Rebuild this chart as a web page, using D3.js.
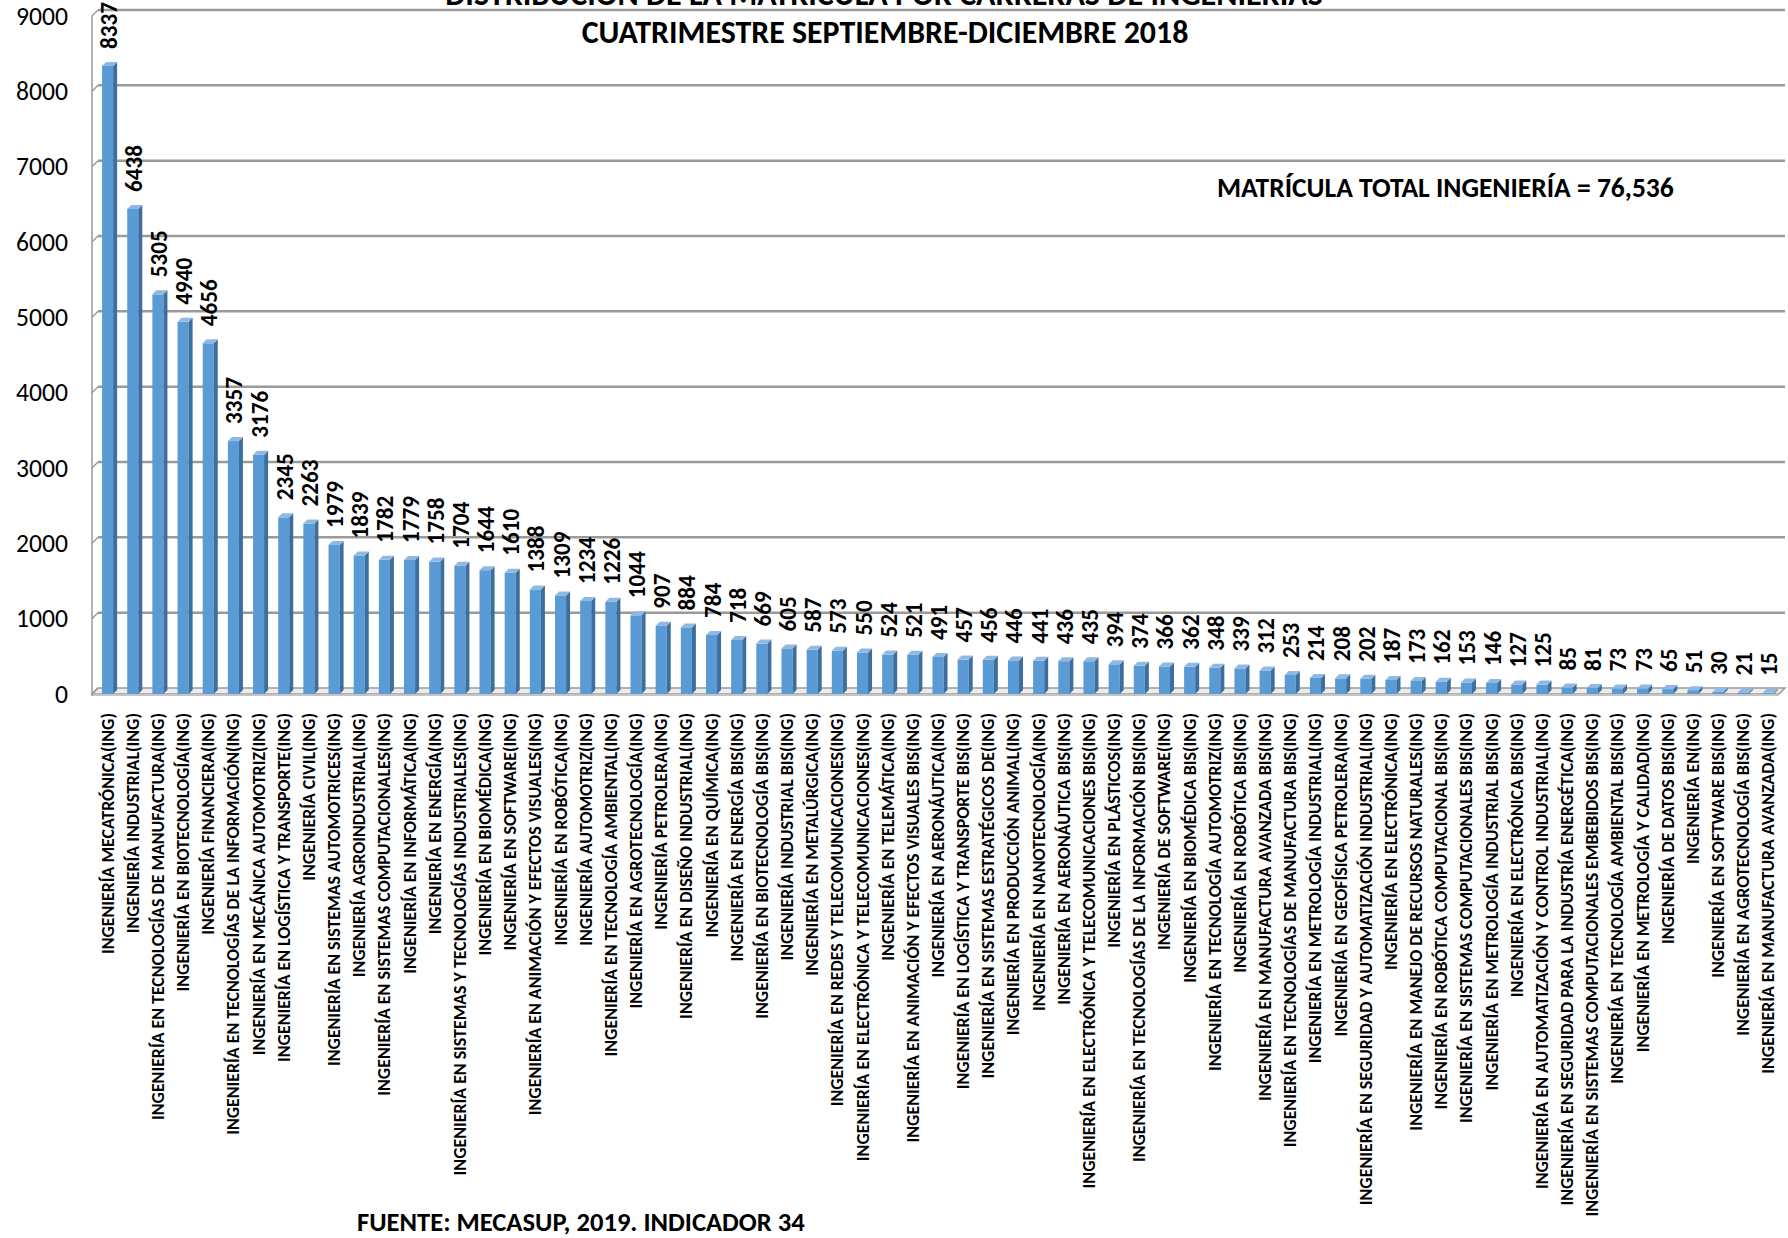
<!DOCTYPE html>
<html>
<head>
<meta charset="utf-8">
<script src="https://cdn.jsdelivr.net/npm/d3@7"></script>
<style>
    body { margin: 0; background: #ffffff; }
    svg { display: block; }
</style>
</head>
<body>
<svg id="svg-container" width="1788" height="1238"></svg>
<script>
// matrícula por carrera, en el mismo orden que la gráfica
const categories = [
    "INGENIERÍA MECATRÓNICA(ING)",
    "INGENIERÍA INDUSTRIAL(ING)",
    "INGENIERÍA EN TECNOLOGÍAS DE MANUFACTURA(ING)",
    "INGENIERÍA EN BIOTECNOLOGÍA(ING)",
    "INGENIERÍA FINANCIERA(ING)",
    "INGENIERÍA EN TECNOLOGÍAS DE LA INFORMACIÓN(ING)",
    "INGENIERÍA EN MECÁNICA AUTOMOTRIZ(ING)",
    "INGENIERÍA EN LOGÍSTICA Y TRANSPORTE(ING)",
    "INGENIERÍA CIVIL(ING)",
    "INGENIERÍA EN SISTEMAS AUTOMOTRICES(ING)",
    "INGENIERÍA AGROINDUSTRIAL(ING)",
    "INGENIERÍA EN SISTEMAS COMPUTACIONALES(ING)",
    "INGENIERÍA EN INFORMÁTICA(ING)",
    "INGENIERÍA EN ENERGÍA(ING)",
    "INGENIERÍA EN SISTEMAS Y TECNOLOGÍAS INDUSTRIALES(ING)",
    "INGENIERÍA EN BIOMÉDICA(ING)",
    "INGENIERÍA EN SOFTWARE(ING)",
    "INGENIERÍA EN ANIMACIÓN Y EFECTOS VISUALES(ING)",
    "INGENIERÍA EN ROBÓTICA(ING)",
    "INGENIERÍA AUTOMOTRIZ(ING)",
    "INGENIERÍA EN TECNOLOGÍA AMBIENTAL(ING)",
    "INGENIERÍA EN AGROTECNOLOGÍA(ING)",
    "INGENIERÍA PETROLERA(ING)",
    "INGENIERÍA EN DISEÑO INDUSTRIAL(ING)",
    "INGENIERÍA EN QUÍMICA(ING)",
    "INGENIERÍA EN ENERGÍA BIS(ING)",
    "INGENIERÍA EN BIOTECNOLOGÍA BIS(ING)",
    "INGENIERÍA INDUSTRIAL BIS(ING)",
    "INGENIERÍA EN METALÚRGICA(ING)",
    "INGENIERÍA EN REDES Y TELECOMUNICACIONES(ING)",
    "INGENIERÍA EN ELECTRÓNICA Y TELECOMUNICACIONES(ING)",
    "INGENIERÍA EN TELEMÁTICA(ING)",
    "INGENIERÍA EN ANIMACIÓN Y EFECTOS VISUALES BIS(ING)",
    "INGENIERÍA EN AERONÁUTICA(ING)",
    "INGENIERÍA EN LOGÍSTICA Y TRANSPORTE BIS(ING)",
    "INGENIERÍA EN SISTEMAS ESTRATÉGICOS DE(ING)",
    "INGENIERÍA EN PRODUCCIÓN ANIMAL(ING)",
    "INGENIERÍA EN NANOTECNOLOGÍA(ING)",
    "INGENIERÍA EN AERONÁUTICA BIS(ING)",
    "INGENIERÍA EN ELECTRÓNICA Y TELECOMUNICACIONES BIS(ING)",
    "INGENIERÍA EN PLÁSTICOS(ING)",
    "INGENIERÍA EN TECNOLOGÍAS DE LA INFORMACIÓN BIS(ING)",
    "INGENIERÍA DE SOFTWARE(ING)",
    "INGENIERÍA EN BIOMÉDICA BIS(ING)",
    "INGENIERÍA EN TECNOLOGÍA AUTOMOTRIZ(ING)",
    "INGENIERÍA EN ROBÓTICA BIS(ING)",
    "INGENIERÍA EN MANUFACTURA AVANZADA BIS(ING)",
    "INGENIERÍA EN TECNOLOGÍAS DE MANUFACTURA BIS(ING)",
    "INGENIERÍA EN METROLOGÍA INDUSTRIAL(ING)",
    "INGENIERÍA EN GEOFÍSICA PETROLERA(ING)",
    "INGENIERÍA EN SEGURIDAD Y AUTOMATIZACIÓN INDUSTRIAL(ING)",
    "INGENIERÍA EN ELECTRÓNICA(ING)",
    "INGENIERÍA EN MANEJO DE RECURSOS NATURALES(ING)",
    "INGENIERÍA EN ROBÓTICA COMPUTACIONAL BIS(ING)",
    "INGENIERÍA EN SISTEMAS COMPUTACIONALES BIS(ING)",
    "INGENIERÍA EN METROLOGÍA INDUSTRIAL BIS(ING)",
    "INGENIERÍA EN ELECTRÓNICA BIS(ING)",
    "INGENIERÍA EN AUTOMATIZACIÓN Y CONTROL INDUSTRIAL(ING)",
    "INGENIERÍA EN SEGURIDAD PARA LA INDUSTRÍA ENERGÉTICA(ING)",
    "INGENIERÍA EN SISTEMAS COMPUTACIONALES EMBEBIDOS BIS(ING)",
    "INGENIERÍA EN TECNOLOGÍA AMBIENTAL BIS(ING)",
    "INGENIERÍA EN METROLOGÍA Y CALIDAD(ING)",
    "INGENIERÍA DE DATOS BIS(ING)",
    "INGENIERÍA EN(ING)",
    "INGENIERÍA EN SOFTWARE BIS(ING)",
    "INGENIERÍA EN AGROTECNOLOGÍA BIS(ING)",
    "INGENIERÍA EN MANUFACTURA AVANZADA(ING)"
];

const values = [
    8337, 6438, 5305, 4940, 4656, 3357, 3176, 2345, 2263, 1979,
    1839, 1782, 1779, 1758, 1704, 1644, 1610, 1388, 1309, 1234,
    1226, 1044, 907, 884, 784, 718, 669, 605, 587, 573,
    550, 524, 521, 491, 457, 456, 446, 441, 436, 435,
    394, 374, 366, 362, 348, 339, 312, 253, 214, 208,
    202, 187, 173, 162, 153, 146, 127, 125, 85, 81,
    73, 73, 65, 51, 30, 21, 15
];

const yTicks = [0, 1000, 2000, 3000, 4000, 5000, 6000, 7000, 8000, 9000];

const titleLines = [
    "DISTRIBUCIÓN DE LA MATRÍCULA POR CARRERAS DE INGENIERÍAS",
    "CUATRIMESTRE SEPTIEMBRE-DICIEMBRE 2018"
];
const totalNote = "MATRÍCULA TOTAL INGENIERÍA = 76,536";
const sourceNote = "FUENTE: MECASUP, 2019. INDICADOR 34";

const FONT = "Carlito, Calibri, 'Liberation Sans Narrow', 'Open Sans', sans-serif";

var data = categories.map(function (c, i) { return { name: c, value: values[i] }; });

var g_svg = d3.select("#svg-container")
    .style("font-family", FONT);

// fuente calibrada por ancho, para que el texto ocupe lo mismo que en la imagen
function fitSize(text, weight, width) {
    var _t = g_svg.append("text")
        .attr("font-size", 100)
        .attr("font-weight", weight)
        .text(text);
    var _w = _t.node().getComputedTextLength();
    _t.remove();
    return 100 * width / _w;
}

var DEPTH = 6;      // profundidad de las paredes
var BAR_D = 4;      // profundidad de las barras

var x = d3.scaleBand()
    .domain(categories)
    .range([95, 1781])
    .paddingInner(0.56)
    .paddingOuter(0.28);

var y = d3.scaleLinear()
    .domain([0, 9000])
    .range([694, 16]);

var X_LEFT = 92, X_RIGHT = 1779;

// ---- paredes y cuadrícula ----
var gGrid = g_svg.append("g");

gGrid.append("path")
    .attr("d", "M" + X_LEFT + "," + y(0) + "L" + X_RIGHT + "," + y(0) +
        "L" + (X_RIGHT + DEPTH) + "," + (y(0) - DEPTH) +
        "L" + (X_LEFT + DEPTH) + "," + (y(0) - DEPTH) + "Z")
    .attr("fill", "#ececec")
    .attr("stroke", "#9a9a9a")
    .attr("stroke-width", 1.5);

gGrid.append("rect")
    .attr("x", X_LEFT)
    .attr("y", y(0))
    .attr("width", X_RIGHT - X_LEFT)
    .attr("height", 2)
    .attr("fill", "#c4c4c4");

gGrid.selectAll("line.grid")
    .data(yTicks.filter(function (d) { return d > 0; }))
    .enter().append("line")
    .attr("class", "grid")
    .attr("x1", X_LEFT + DEPTH)
    .attr("x2", X_RIGHT + DEPTH)
    .attr("y1", function (d) { return y(d) - DEPTH; })
    .attr("y2", function (d) { return y(d) - DEPTH; })
    .attr("stroke", "#9a9a9a")
    .attr("stroke-width", 2.5);

gGrid.selectAll("line.wall")
    .data(yTicks)
    .enter().append("line")
    .attr("class", "wall")
    .attr("x1", X_LEFT)
    .attr("x2", X_LEFT + DEPTH)
    .attr("y1", function (d) { return y(d); })
    .attr("y2", function (d) { return y(d) - DEPTH; })
    .attr("stroke", "#9a9a9a")
    .attr("stroke-width", 1.5);

gGrid.append("line")
    .attr("x1", X_LEFT)
    .attr("x2", X_LEFT)
    .attr("y1", y(0) + 2)
    .attr("y2", y(9000))
    .attr("stroke", "#9a9a9a")
    .attr("stroke-width", 1.5);

// ---- eje Y ----
var tickSize = fitSize("1000", "normal", 52);

g_svg.append("g").selectAll("text")
    .data(yTicks)
    .enter().append("text")
    .attr("x", 68)
    .attr("y", function (d) { return y(d); })
    .attr("text-anchor", "end")
    .attr("dominant-baseline", "central")
    .attr("font-size", tickSize)
    .attr("fill", "#000")
    .text(function (d) { return d; });

// ---- barras 3D ----
var bw = x.bandwidth();

var gBars = g_svg.append("g").selectAll("g")
    .data(data)
    .enter().append("g")
    .attr("transform", function (d) { return "translate(" + x(d.name) + ",0)"; });

gBars.append("rect")
    .attr("x", 0)
    .attr("y", function (d) { return y(d.value); })
    .attr("width", bw)
    .attr("height", function (d) { return y(0) - y(d.value); })
    .attr("fill", "#5b9bd5");

gBars.append("path")
    .attr("d", function (d) {
        var t = y(d.value), b = y(0);
        return "M" + bw + "," + t + "L" + (bw + BAR_D) + "," + (t - BAR_D) +
            "L" + (bw + BAR_D) + "," + (b - BAR_D) + "L" + bw + "," + b + "Z";
    })
    .attr("fill", "#3d6f9e");

gBars.append("path")
    .attr("d", function (d) {
        var t = y(d.value);
        return "M0," + t + "L" + BAR_D + "," + (t - BAR_D) +
            "L" + (bw + BAR_D) + "," + (t - BAR_D) + "L" + bw + "," + t + "Z";
    })
    .attr("fill", "#8fb8e3");

// ---- etiquetas de valor ----
var valueSize = fitSize("6438", "bold", 47);

g_svg.append("g").selectAll("text")
    .data(data)
    .enter().append("text")
    .attr("transform", function (d) {
        return "translate(" + (x(d.name) + bw / 2 + 1) + "," + (y(d.value) - 17) + ") rotate(-90)";
    })
    .attr("text-anchor", "start")
    .attr("dominant-baseline", "central")
    .attr("font-size", valueSize)
    .attr("font-weight", "bold")
    .attr("fill", "#000")
    .text(function (d) { return d.value; });

// ---- categorías ----
var catSize = fitSize(categories[5], "bold", 422);

g_svg.append("g").selectAll("text")
    .data(data)
    .enter().append("text")
    .attr("transform", function (d) {
        return "translate(" + (x(d.name) + bw / 2) + ",713) rotate(-90)";
    })
    .attr("text-anchor", "end")
    .attr("dominant-baseline", "central")
    .attr("font-size", catSize)
    .attr("font-weight", "bold")
    .attr("fill", "#000")
    .text(function (d) { return d.name; });

// ---- títulos y notas ----
g_svg.append("text")
    .attr("x", 884)
    .attr("y", 5)
    .attr("text-anchor", "middle")
    .attr("font-size", fitSize(titleLines[0], "bold", 878))
    .attr("font-weight", "bold")
    .text(titleLines[0]);

g_svg.append("text")
    .attr("x", 885)
    .attr("y", 43)
    .attr("text-anchor", "middle")
    .attr("font-size", fitSize(titleLines[1], "bold", 607))
    .attr("font-weight", "bold")
    .text(titleLines[1]);

g_svg.append("text")
    .attr("x", 1217)
    .attr("y", 197)
    .attr("font-size", fitSize(totalNote, "bold", 457))
    .attr("font-weight", "bold")
    .text(totalNote);

g_svg.append("text")
    .attr("x", 357)
    .attr("y", 1231)
    .attr("font-size", fitSize(sourceNote, "bold", 448))
    .attr("font-weight", "bold")
    .text(sourceNote);
</script>
</body>
</html>
